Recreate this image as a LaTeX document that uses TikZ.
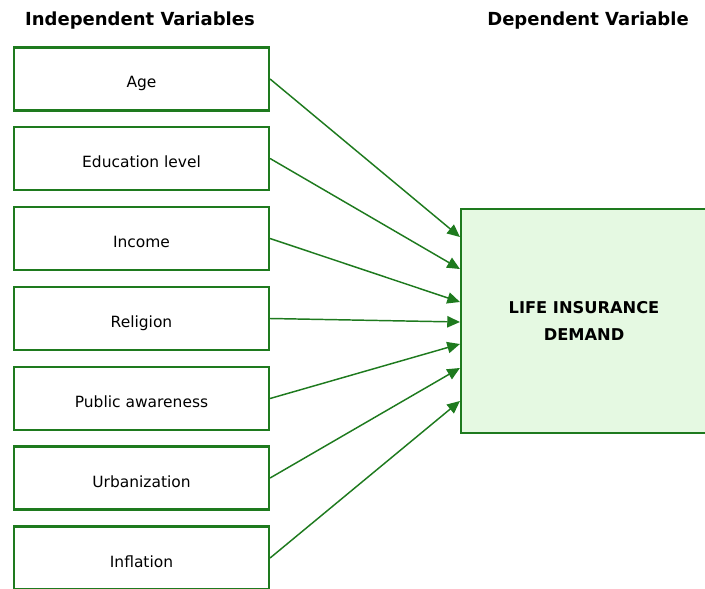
\documentclass[tikz,border=0pt]{standalone}
\usepackage{fontspec}
\setmainfont{DejaVu Sans}
\usetikzlibrary{arrows.meta}
\definecolor{boxgreen}{RGB}{30,122,30}
\definecolor{boxfill}{RGB}{229,249,226}
\tikzset{
  varbox/.style={draw=boxgreen, line width=1.6pt, fill=white, minimum width=255*0.75pt,
    minimum height=63*0.75pt, inner sep=0pt, text height=13.5pt, text depth=0pt,
    font=\fontsize{11.6}{14}\selectfont},
  depbox/.style={draw=boxgreen, line width=1.6pt, fill=boxfill, minimum width=246*0.75pt,
    minimum height=224*0.75pt, inner sep=0pt, align=center,
    font=\bfseries\fontsize{12.2}{20.5}\selectfont},
  heading/.style={font=\bfseries\fontsize{13.5}{16}\selectfont, inner sep=0pt},
  link/.style={draw=boxgreen, line width=1.1pt, -{Triangle[length=9.5pt,width=8.5pt]}}
}
\begin{document}
\begin{tikzpicture}[x=0.75pt,y=-0.75pt]
\useasboundingbox (0,0) rectangle (705,588);
\clip (0,0) rectangle (705,588);
% column headings
\node[heading] (hind) at (140,21) {Independent Variables};
\node[heading] (hdep) at (588,21) {Dependent Variable};
% independent variables
\node[varbox] (age)   at (141.5,79)    {Age};
\node[varbox] (edu)   at (141.5,158.5) {Education level};
\node[varbox] (inc)   at (141.5,238.5) {Income};
\node[varbox] (rel)   at (141.5,318.5) {Religion};
\node[varbox] (pub)   at (141.5,398.5) {Public awareness};
\node[varbox] (urb)   at (141.5,478)   {Urbanization};
\node[varbox] (inf)   at (141.5,558)   {Inflation};
% dependent variable
\node[depbox] (lid) at (584,321) {LIFE INSURANCE\\DEMAND};
% connectors
\draw[link] (age.east) -- (lid.west |- 0,237);
\draw[link] (edu.east) -- (lid.west |- 0,269);
\draw[link] (inc.east) -- (lid.west |- 0,302);
\draw[link] (rel.east) -- (lid.west |- 0,322);
\draw[link] (pub.east) -- (lid.west |- 0,344);
\draw[link] (urb.east) -- (lid.west |- 0,368);
\draw[link] (inf.east) -- (lid.west |- 0,401);
\end{tikzpicture}
\end{document}
